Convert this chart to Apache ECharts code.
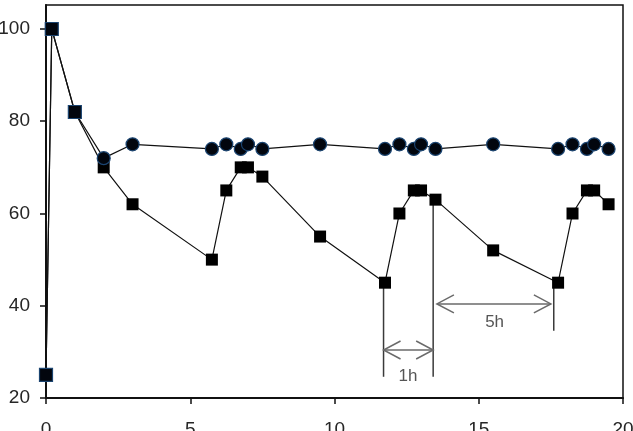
<!DOCTYPE html>
<html>
<head>
<meta charset="utf-8">
<script src="https://cdn.jsdelivr.net/npm/echarts@6/dist/echarts.min.js"></script>
<style>
  html, body { margin: 0; padding: 0; background: #fff; }
  #chart { width: 633px; height: 431px; }
</style>
</head>
<body>
<div id="chart"></div>
<script>
const times = [0, 0.2, 1, 2, 3, 5.75, 6.25, 6.75, 7, 7.5, 9.5, 11.75, 12.25, 12.75, 13, 13.5, 15.5, 17.75, 18.25, 18.75, 19, 19.5];
const squareValues = [25, 100, 82, 70, 62, 50, 65, 70, 70, 68, 55, 45, 60, 65, 65, 63, 52, 45, 60, 65, 65, 62];
const circleValues = [25, 100, 82, 72, 75, 74, 75, 74, 75, 74, 75, 74, 75, 74, 75, 74, 75, 74, 75, 74, 75, 74];
const yTicks = [20, 40, 60, 80, 100];

// annotation guides: [x, yTop, yBottom]
const guideLines = [[11.7, 45, 24.6], [13.42, 63, 24.6], [17.6, 45, 34.6]];
// double arrows: [xStart, xEnd, y]
const spanArrows = [[11.7, 13.42, 30.4], [13.55, 17.5, 40.4]];
const spanLabels = [['1h', 12.55, 24.8], ['5h', 15.55, 36.4]];

const font = '"Liberation Sans", Arial, sans-serif';

const chart = echarts.init(document.getElementById('chart'));

function chevron(x, y, dir) {
  return [[x + dir * 17, y - 9], [x, y], [x + dir * 17, y + 9]];
}

chart.setOption({
  animation: false,
  backgroundColor: '#fff',
  grid: {
    left: 46, right: 10, top: 5, bottom: 33,
    outerBoundsMode: 'none',
    containLabel: false,
    show: true, borderColor: '#111', borderWidth: 1.5
  },
  xAxis: {
    type: 'value',
    min: 0, max: 20, interval: 5,
    splitLine: { show: false },
    axisLine: { lineStyle: { color: '#111', width: 2 } },
    axisTick: { show: true, length: 6, lineStyle: { color: '#111', width: 1.5 } },
    axisLabel: { margin: 22, color: '#262626', fontSize: 19, fontFamily: font }
  },
  yAxis: {
    type: 'value',
    min: 20, max: 105.2,
    splitLine: { show: false },
    axisLine: { show: true, lineStyle: { color: '#111', width: 2 } },
    axisTick: { show: true, length: 6, customValues: yTicks, lineStyle: { color: '#111', width: 1.5 } },
    axisLabel: { margin: 16, customValues: yTicks, color: '#262626', fontSize: 19, fontFamily: font }
  },
  series: [
    {
      type: 'line',
      data: times.map((t, i) => [t, squareValues[i]]),
      symbol: 'rect',
      symbolSize: 12,
      lineStyle: { color: '#111', width: 1.2 },
      itemStyle: { color: '#000' },
      z: 3
    },
    {
      type: 'line',
      data: times.map((t, i) => ({
        value: [t, circleValues[i]],
        symbol: i < 3 ? 'rect' : 'circle'
      })),
      symbolSize: 13,
      lineStyle: { color: '#111', width: 1.2 },
      itemStyle: { color: '#02060e', borderColor: '#1b4470', borderWidth: 1.2 },
      z: 4
    },
    {
      type: 'custom',
      data: guideLines,
      z: 2,
      renderItem(params, api) {
        const top = api.coord([api.value(0), api.value(1)]);
        const bottom = api.coord([api.value(0), api.value(2)]);
        return {
          type: 'line',
          shape: { x1: top[0], y1: top[1], x2: bottom[0], y2: bottom[1] },
          style: { stroke: '#3a3a3a', lineWidth: 1.5 }
        };
      }
    },
    {
      type: 'custom',
      data: spanArrows,
      z: 2,
      renderItem(params, api) {
        const a = api.coord([api.value(0), api.value(2)]);
        const b = api.coord([api.value(1), api.value(2)]);
        const style = { stroke: '#6a6a6a', lineWidth: 1.5, fill: null };
        return {
          type: 'group',
          children: [
            { type: 'line', shape: { x1: a[0], y1: a[1], x2: b[0], y2: b[1] }, style },
            { type: 'polyline', shape: { points: chevron(a[0], a[1], 1) }, style },
            { type: 'polyline', shape: { points: chevron(b[0], b[1], -1) }, style }
          ]
        };
      }
    },
    {
      type: 'custom',
      data: spanLabels.map((d) => [d[1], d[2]]),
      z: 2,
      renderItem(params, api) {
        const p = api.coord([api.value(0), api.value(1)]);
        return {
          type: 'text',
          x: p[0], y: p[1],
          style: {
            text: spanLabels[params.dataIndex][0],
            fill: '#555',
            font: '17px ' + font,
            align: 'center',
            verticalAlign: 'middle'
          }
        };
      }
    }
  ]
});
</script>
</body>
</html>
